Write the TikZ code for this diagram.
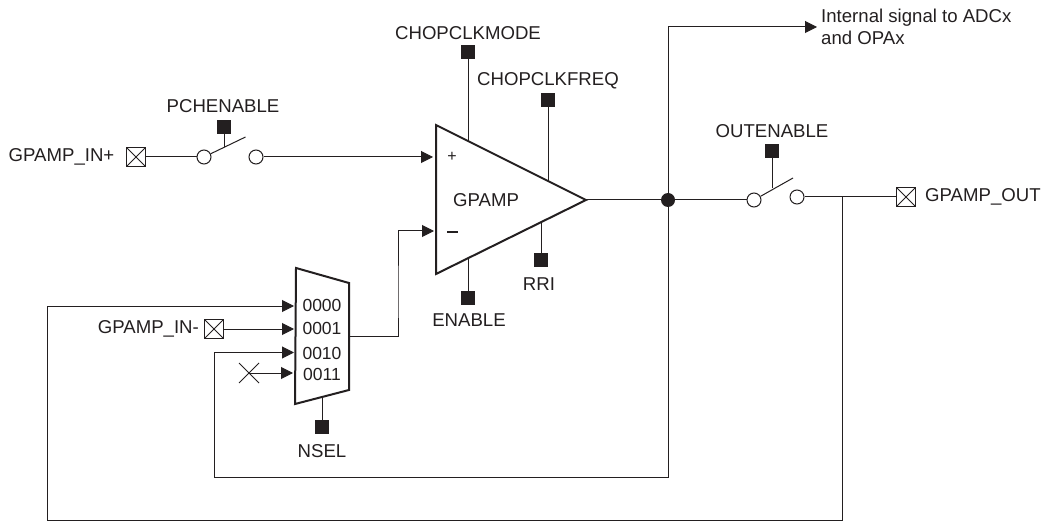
\documentclass[tikz,border=0pt]{standalone}
\usepackage{fontspec}
\setmainfont{Liberation Sans}
\usetikzlibrary{arrows.meta}
\definecolor{ink}{HTML}{231F20}
\tikzset{
  lab/.style={inner sep=0pt,text=ink,font=\fontsize{18.6}{21.5}\selectfont},
  muxlab/.style={inner sep=0pt,text=ink,font=\fontsize{17.5}{20}\selectfont},
  wire/.style={draw=ink,line width=1pt},
  sig/.style={wire,-{Triangle[length=12pt,width=12pt]}},
  ctrl/.style={fill=ink,draw=none,minimum size=14.5pt,inner sep=0pt},
  term/.style={draw=ink,line width=1.1pt,minimum size=19pt,inner sep=0pt,path picture={
     \draw[ink,line width=.9pt] (path picture bounding box.north west)--(path picture bounding box.south east)
       (path picture bounding box.north east)--(path picture bounding box.south west);}},
  contact/.style={circle,draw=ink,fill=white,line width=1pt,minimum size=14pt,inner sep=0pt},
  junction/.style={circle,fill=ink,draw=none,minimum size=14pt,inner sep=0pt},
  thick outline/.style={draw=ink,line width=2pt,line join=miter,fill=white}
}
\begin{document}
\begin{tikzpicture}[x=1pt,y=-1pt]
\useasboundingbox (0,0) rectangle (1041,521);
% amplifier and mux
\coordinate (ampT) at (436,125);
\coordinate (ampB) at (436,274);
\coordinate (ampO) at (586,200);
\coordinate (modeE) at (468,141);
\coordinate (freqE) at (548,181);
\coordinate (rriE) at (541,222);
\coordinate (enE) at (468,258);
\coordinate (ampP) at (433,157);
\coordinate (ampM) at (434,231);
\coordinate (muxO) at (349,336);
\coordinate (nselE) at (322,397);
\coordinate (i0) at (294,306);
\coordinate (i1) at (294,329);
\coordinate (i2) at (294,352.5);
\coordinate (i3) at (293,373);
% terminals and control squares
\node[term] (inp) at (136,157) {};
\node[lab,anchor=east] (inpL) at (114.5,157) {GPAMP\_IN+};
\node[contact] (s1a) at (204,157) {};
\node[contact] (s1b) at (256,157) {};
\node[ctrl] (pch) at (224,127) {};
\node[lab] (pchL) at (223,106) {PCHENABLE};
\coordinate (s1l) at (245.5,137);
\coordinate (s1m) at (224,147);
\node[ctrl] (mode) at (468,52) {};
\node[lab] (modeL) at (468,33) {CHOPCLKMODE};
\node[ctrl] (freq) at (548,100) {};
\node[lab] (freqL) at (548,81) {CHOPCLKFREQ};
\node[ctrl] (rri) at (541,260) {};
\node[lab] (rriL) at (539,284) {RRI};
\node[ctrl] (en) at (468,298) {};
\node[lab] (enL) at (469,320) {ENABLE};
\node[ctrl] (nsel) at (322,427) {};
\node[lab] (nselL) at (322,451) {NSEL};
\node[term] (inm) at (214,329) {};
\node[lab,anchor=east] (inmL) at (199,329) {GPAMP\_IN-};
\node[junction] (dot) at (668,200) {};
\node[contact] (s2a) at (754,200) {};
\node[contact] (s2b) at (797,197) {};
\node[ctrl] (oute) at (772,151) {};
\node[lab] (outeL) at (772,131) {OUTENABLE};
\coordinate (s2l) at (793,178);
\coordinate (s2m) at (772,188);
\node[term] (out) at (906,197) {};
\node[lab,anchor=west] (outL) at (925,197) {GPAMP\_OUT};
\node[lab,anchor=north west,align=left] (intL) at (821,9) {Internal signal to ADCx\\and OPAx};
\coordinate (intT) at (817,27);
\coordinate (xc) at (249,373);
\coordinate (b1) at (842,197);
% wires
\draw[wire] (inp) -- (s1a);
\draw[wire] (s1a) -- (s1l);
\draw[wire] (pch) -- (s1m);
\draw[sig] (s1b) -- (ampP);
\draw[wire] (mode) -- (modeE);
\draw[wire] (freq) -- (freqE);
\draw[wire] (rri) -- (rriE);
\draw[wire] (en) -- (enE);
\draw[wire] (nsel) -- (nselE);
\draw[wire] (ampO) -- (dot);
\draw[wire] (dot) -- (s2a);
\draw[wire] (s2a) -- (s2l);
\draw[wire] (oute) -- (s2m);
\draw[wire] (s2b) -- (out);
\draw[sig] (dot) |- (intT);
\draw[sig] (dot) -- (668,477) -- (214,477) |- (i2);
\draw[sig] (b1) -- (842,520) -- (47,520) |- (i0);
\draw[sig] (inm) -- (i1);
\draw[sig] (xc) -- (i3);
\draw[sig] (muxO) -| (398,300) |- (ampM);
\draw[draw=ink,line width=.9pt] (239,363) -- (259,383) (239,383) -- (259,363);
% shapes
\draw[thick outline] (ampT) -- (ampO) -- (ampB) -- cycle;
\draw[thick outline] (296,268) -- (349,283) -- (349,390) -- (295,404) -- cycle;
\node[lab] (plus) at (452,157) {\fontsize{16}{16}\selectfont +};
\draw[ink,line width=1.5pt] (447,232) -- (458,232);
\node[lab] (gp) at (486,200) {GPAMP};
\node[muxlab] (m0) at (322,305) {0000};
\node[muxlab] (m1) at (322,328) {0001};
\node[muxlab] (m2) at (322,353) {0010};
\node[muxlab] (m3) at (322,374) {0011};
\end{tikzpicture}
\end{document}
